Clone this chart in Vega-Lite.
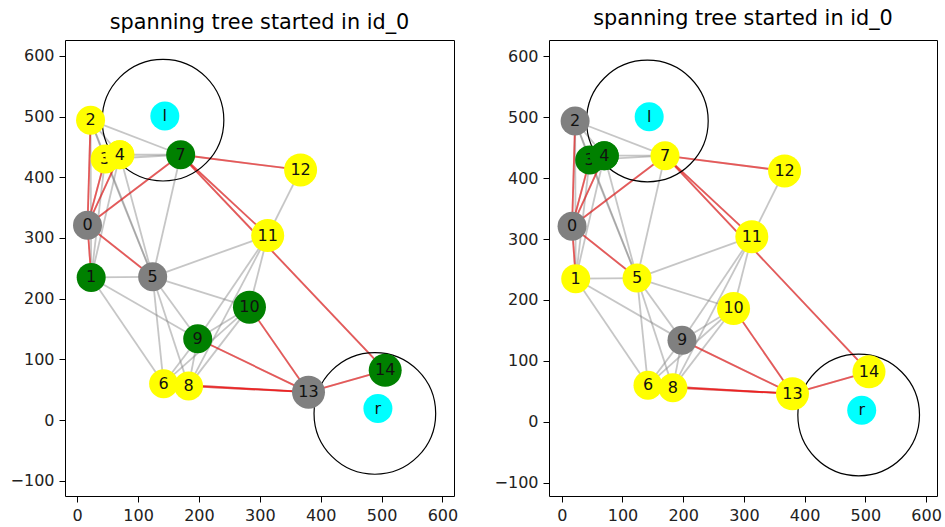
{
  "$schema": "https://vega.github.io/schema/vega-lite/v6.json",
  "padding": {"left": 9, "top": 7, "right": 5, "bottom": 5},
  "background": "white",
  "bounds": "full",
  "spacing": 34,
  "config": {
    "view": {"stroke": "black", "strokeWidth": 1},
    "axis": {"domain": false, "grid": false, "ticks": true, "tickColor": "black", "tickSize": 6, "tickWidth": 1,
      "labelFontSize": 16, "labelFont": "DejaVu Sans", "labelColor": "#222", "labelPadding": 5,
      "labelFlush": false, "labelOverlap": false, "title": null},
    "title": {"font": "DejaVu Sans", "fontSize": 20.8, "fontWeight": "normal", "color": "black"}
  },
  "datasets": {
    "nodes": [
      {"id": "0", "x": 17, "y": 321, "left": "head", "right": "head"},
      {"id": "1", "x": 23, "y": 235, "left": "member", "right": "idle"},
      {"id": "2", "x": 22, "y": 494, "left": "idle", "right": "head"},
      {"id": "3", "x": 46, "y": 430, "left": "idle", "right": "member"},
      {"id": "4", "x": 70, "y": 437, "left": "idle", "right": "member"},
      {"id": "5", "x": 124, "y": 236, "left": "head", "right": "idle"},
      {"id": "6", "x": 142, "y": 60, "left": "idle", "right": "idle"},
      {"id": "7", "x": 170, "y": 437, "left": "member", "right": "idle"},
      {"id": "8", "x": 183, "y": 56, "left": "idle", "right": "idle"},
      {"id": "9", "x": 198, "y": 134, "left": "member", "right": "head"},
      {"id": "10", "x": 283, "y": 186, "left": "member", "right": "idle"},
      {"id": "11", "x": 313, "y": 304, "left": "idle", "right": "idle"},
      {"id": "12", "x": 367, "y": 412, "left": "idle", "right": "idle"},
      {"id": "13", "x": 380, "y": 46, "left": "head", "right": "idle"},
      {"id": "14", "x": 506, "y": 82, "left": "member", "right": "idle"},
      {"id": "l", "x": 144, "y": 501, "left": "anchor", "right": "anchor"},
      {"id": "r", "x": 494, "y": 19, "left": "anchor", "right": "anchor"}
    ],
    "rings": [
      {"name": "l", "x": 141, "y": 494},
      {"name": "r", "x": 489, "y": 11}
    ],
    "edges": [
      {"s": "0", "t": "1", "tree": true},
      {"s": "0", "t": "2", "tree": true},
      {"s": "0", "t": "3", "tree": true},
      {"s": "0", "t": "4", "tree": true},
      {"s": "0", "t": "5", "tree": true},
      {"s": "0", "t": "7", "tree": true},
      {"s": "7", "t": "11", "tree": true},
      {"s": "7", "t": "12", "tree": true},
      {"s": "7", "t": "14", "tree": true},
      {"s": "14", "t": "13", "tree": true},
      {"s": "13", "t": "6", "tree": true},
      {"s": "13", "t": "8", "tree": true},
      {"s": "13", "t": "9", "tree": true},
      {"s": "13", "t": "10", "tree": true},
      {"s": "2", "t": "3", "tree": false},
      {"s": "2", "t": "4", "tree": false},
      {"s": "2", "t": "7", "tree": false},
      {"s": "2", "t": "5", "tree": false},
      {"s": "2", "t": "1", "tree": false},
      {"s": "3", "t": "4", "tree": false},
      {"s": "3", "t": "7", "tree": false},
      {"s": "4", "t": "7", "tree": false},
      {"s": "3", "t": "5", "tree": false},
      {"s": "4", "t": "5", "tree": false},
      {"s": "3", "t": "1", "tree": false},
      {"s": "4", "t": "1", "tree": false},
      {"s": "7", "t": "5", "tree": false},
      {"s": "1", "t": "5", "tree": false},
      {"s": "1", "t": "9", "tree": false},
      {"s": "1", "t": "6", "tree": false},
      {"s": "5", "t": "11", "tree": false},
      {"s": "5", "t": "10", "tree": false},
      {"s": "5", "t": "9", "tree": false},
      {"s": "5", "t": "6", "tree": false},
      {"s": "5", "t": "8", "tree": false},
      {"s": "11", "t": "12", "tree": false},
      {"s": "11", "t": "10", "tree": false},
      {"s": "11", "t": "9", "tree": false},
      {"s": "11", "t": "8", "tree": false},
      {"s": "10", "t": "9", "tree": false},
      {"s": "10", "t": "6", "tree": false},
      {"s": "10", "t": "8", "tree": false},
      {"s": "9", "t": "6", "tree": false},
      {"s": "9", "t": "8", "tree": false},
      {"s": "6", "t": "8", "tree": false}
    ]
  },
  "hconcat": [
    {
      "width": 389, "height": 456,
      "title": {"text": "spanning tree started in id_0", "offset": 6},
      "encoding": {
        "x": {"field": "x", "type": "quantitative", "scale": {"domain": [-20, 619], "nice": false, "zero": false}, "axis": {"values": [0, 100, 200, 300, 400, 500, 600]}},
        "y": {"field": "y", "type": "quantitative", "scale": {"domain": [-125, 626], "nice": false, "zero": false}, "axis": {"values": [-100, 0, 100, 200, 300, 400, 500, 600]}}
      },
      "layer": [
        {"data": {"name": "edges"},
         "transform": [
           {"lookup": "s", "from": {"data": {"name": "nodes"}, "key": "id", "fields": ["x", "y"]}, "as": ["x", "y"]},
           {"lookup": "t", "from": {"data": {"name": "nodes"}, "key": "id", "fields": ["x", "y"]}, "as": ["xe", "ye"]}
         ],
         "mark": {"type": "rule", "color": "gray", "opacity": 0.45, "strokeWidth": 1.8},
         "encoding": {"x2": {"field": "xe"}, "y2": {"field": "ye"}}},
        {"data": {"name": "edges"},
         "transform": [
           {"filter": "datum.tree"},
           {"lookup": "s", "from": {"data": {"name": "nodes"}, "key": "id", "fields": ["x", "y"]}, "as": ["x", "y"]},
           {"lookup": "t", "from": {"data": {"name": "nodes"}, "key": "id", "fields": ["x", "y"]}, "as": ["xe", "ye"]}
         ],
         "mark": {"type": "rule", "color": "red", "opacity": 0.55, "strokeWidth": 1.8},
         "encoding": {"x2": {"field": "xe"}, "y2": {"field": "ye"}}},
        {"data": {"name": "rings"},
         "mark": {"type": "point", "shape": "circle", "filled": false, "stroke": "black", "strokeWidth": 1.2, "opacity": 1, "size": 14800}},
        {"data": {"name": "nodes"},
         "transform": [{"filter": "length(datum.id) == 1"}],
         "mark": {"type": "point", "shape": "circle", "filled": true, "opacity": 1, "size": 841},
         "encoding": {"color": {"field": "left", "type": "nominal", "legend": null, "scale": {"domain": ["head", "member", "idle", "anchor"], "range": ["#808080", "#008000", "#ffff00", "#00ffff"]}}}},
        {"data": {"name": "nodes"},
         "transform": [{"filter": "length(datum.id) > 1"}],
         "mark": {"type": "point", "shape": "circle", "filled": true, "opacity": 1, "size": 1089},
         "encoding": {"color": {"field": "left", "type": "nominal", "legend": null, "scale": {"domain": ["head", "member", "idle", "anchor"], "range": ["#808080", "#008000", "#ffff00", "#00ffff"]}}}},
        {"data": {"name": "nodes"},
         "mark": {"type": "text", "font": "DejaVu Sans", "fontSize": 16, "color": "#111", "align": "center", "baseline": "middle"},
         "encoding": {"text": {"field": "id"}}},
        {"data": {"name": "nodes"},
         "transform": [{"filter": "datum.id == '4'"}],
         "mark": {"type": "point", "shape": "circle", "filled": true, "opacity": 1, "size": 841},
         "encoding": {"color": {"field": "left", "type": "nominal", "legend": null, "scale": {"domain": ["head", "member", "idle", "anchor"], "range": ["#808080", "#008000", "#ffff00", "#00ffff"]}}}},
        {"data": {"name": "nodes"},
         "transform": [{"filter": "datum.id == '4'"}],
         "mark": {"type": "text", "font": "DejaVu Sans", "fontSize": 16, "color": "#111", "align": "center", "baseline": "middle"},
         "encoding": {"text": {"field": "id"}}}
      ],
      "resolve": {"scale": {"color": "shared"}}
    },
    {
      "width": 388, "height": 456,
      "title": {"text": "spanning tree started in id_0", "offset": 10},
      "encoding": {
        "x": {"field": "x", "type": "quantitative", "scale": {"domain": [-21, 618], "nice": false, "zero": false}, "axis": {"values": [0, 100, 200, 300, 400, 500, 600]}},
        "y": {"field": "y", "type": "quantitative", "scale": {"domain": [-122, 627], "nice": false, "zero": false}, "axis": {"values": [-100, 0, 100, 200, 300, 400, 500, 600]}}
      },
      "layer": [
        {"data": {"name": "edges"},
         "transform": [
           {"lookup": "s", "from": {"data": {"name": "nodes"}, "key": "id", "fields": ["x", "y"]}, "as": ["x", "y"]},
           {"lookup": "t", "from": {"data": {"name": "nodes"}, "key": "id", "fields": ["x", "y"]}, "as": ["xe", "ye"]}
         ],
         "mark": {"type": "rule", "color": "gray", "opacity": 0.45, "strokeWidth": 1.8},
         "encoding": {"x2": {"field": "xe"}, "y2": {"field": "ye"}}},
        {"data": {"name": "edges"},
         "transform": [
           {"filter": "datum.tree"},
           {"lookup": "s", "from": {"data": {"name": "nodes"}, "key": "id", "fields": ["x", "y"]}, "as": ["x", "y"]},
           {"lookup": "t", "from": {"data": {"name": "nodes"}, "key": "id", "fields": ["x", "y"]}, "as": ["xe", "ye"]}
         ],
         "mark": {"type": "rule", "color": "red", "opacity": 0.55, "strokeWidth": 1.8},
         "encoding": {"x2": {"field": "xe"}, "y2": {"field": "ye"}}},
        {"data": {"name": "rings"},
         "mark": {"type": "point", "shape": "circle", "filled": false, "stroke": "black", "strokeWidth": 1.2, "opacity": 1, "size": 14800}},
        {"data": {"name": "nodes"},
         "transform": [{"filter": "length(datum.id) == 1"}],
         "mark": {"type": "point", "shape": "circle", "filled": true, "opacity": 1, "size": 841},
         "encoding": {"color": {"field": "right", "type": "nominal", "legend": null, "scale": {"domain": ["head", "member", "idle", "anchor"], "range": ["#808080", "#008000", "#ffff00", "#00ffff"]}}}},
        {"data": {"name": "nodes"},
         "transform": [{"filter": "length(datum.id) > 1"}],
         "mark": {"type": "point", "shape": "circle", "filled": true, "opacity": 1, "size": 1089},
         "encoding": {"color": {"field": "right", "type": "nominal", "legend": null, "scale": {"domain": ["head", "member", "idle", "anchor"], "range": ["#808080", "#008000", "#ffff00", "#00ffff"]}}}},
        {"data": {"name": "nodes"},
         "mark": {"type": "text", "font": "DejaVu Sans", "fontSize": 16, "color": "#111", "align": "center", "baseline": "middle"},
         "encoding": {"text": {"field": "id"}}},
        {"data": {"name": "nodes"},
         "transform": [{"filter": "datum.id == '4'"}],
         "mark": {"type": "point", "shape": "circle", "filled": true, "opacity": 1, "size": 841},
         "encoding": {"color": {"field": "right", "type": "nominal", "legend": null, "scale": {"domain": ["head", "member", "idle", "anchor"], "range": ["#808080", "#008000", "#ffff00", "#00ffff"]}}}},
        {"data": {"name": "nodes"},
         "transform": [{"filter": "datum.id == '4'"}],
         "mark": {"type": "text", "font": "DejaVu Sans", "fontSize": 16, "color": "#111", "align": "center", "baseline": "middle"},
         "encoding": {"text": {"field": "id"}}}
      ],
      "resolve": {"scale": {"color": "shared"}}
    }
  ],
  "resolve": {"scale": {"x": "independent", "y": "independent", "color": "independent"}}
}
